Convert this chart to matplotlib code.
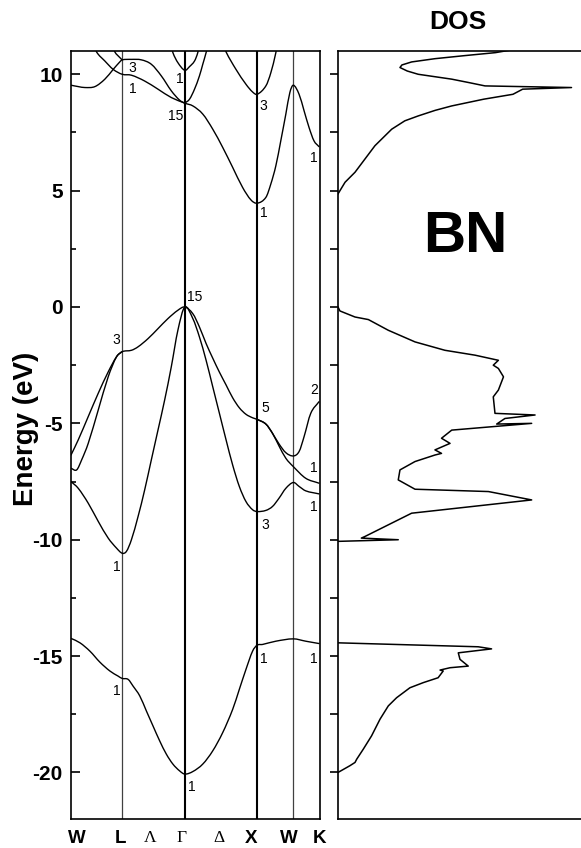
import numpy as np
import matplotlib
matplotlib.use("Agg")
import matplotlib.pyplot as plt
from matplotlib.path import Path
from matplotlib.patches import PathPatch

plt.rcParams['font.family'] = ['Liberation Sans', 'DejaVu Sans']
plt.rcParams['axes.unicode_minus'] = False

# ---------------- data ----------------
# high-symmetry points along the path (units of 2*pi/a)
sym_k = [0.0, 0.707, 1.573, 2.573, 3.073, 3.427]
xtick_labels = ['W', 'L', 'Λ', 'Γ', 'Δ', 'X', 'W', 'K']
xtick_pos = [0.076, 0.685, 1.100, 1.528, 2.040, 2.491, 3.014, 3.441]

# valence bands
v1_k = [0.000, 0.124, 0.262, 0.399, 0.537, 0.651, 0.707, 0.789, 0.858, 0.950, 1.042,
        1.133, 1.225, 1.317, 1.408, 1.500, 1.573, 1.684, 1.821, 1.959, 2.096, 2.234,
        2.326, 2.418, 2.509, 2.573, 2.647, 2.831, 3.073, 3.244, 3.427]
v1_e = [-14.24, -14.43, -14.79, -15.26, -15.64, -15.86, -15.96, -16.00, -16.29, -16.71, -17.36,
        -18.00, -18.64, -19.21, -19.64, -19.93, -20.07, -19.96, -19.64, -19.07, -18.29, -17.29,
        -16.43, -15.57, -14.79, -14.53, -14.50, -14.36, -14.26, -14.36, -14.46]

va_k = [0.000, 0.100, 0.238, 0.376, 0.514, 0.629, 0.707, 0.835, 0.927, 1.064, 1.202, 1.339,
        1.477, 1.573, 1.684, 1.775, 1.867, 1.959, 2.051, 2.143, 2.234, 2.326, 2.418, 2.509,
        2.573, 2.693, 2.785, 2.876, 2.969, 3.073, 3.152, 3.221, 3.313, 3.427]
va_e = [-6.36, -5.71, -4.71, -3.71, -2.79, -2.14, -1.92, -1.86, -1.71, -1.36, -0.93, -0.50,
        -0.14, 0.00, -0.29, -0.86, -1.57, -2.20, -2.80, -3.35, -3.90, -4.33, -4.61, -4.76,
        -4.83, -5.03, -5.43, -5.89, -6.26, -6.40, -6.21, -5.57, -4.57, -4.07]

vb_wl_k = [0.000, 0.078, 0.147, 0.238, 0.376, 0.514, 0.629, 0.707]
vb_wl_e = [-6.93, -7.00, -6.57, -5.86, -4.43, -3.00, -2.14, -1.92]
vb_xk_k = [2.573, 2.693, 2.785, 2.876, 2.969, 3.073, 3.244, 3.427]
vb_xk_e = [-4.83, -5.03, -5.43, -5.98, -6.50, -6.86, -7.36, -7.57]

vc_k = [0.000, 0.100, 0.238, 0.376, 0.514, 0.629, 0.707, 0.766, 0.835, 0.927, 1.018, 1.110,
        1.202, 1.294, 1.386, 1.477, 1.573, 1.684, 1.775, 1.867, 1.959, 2.051, 2.143, 2.234,
        2.326, 2.418, 2.509, 2.573, 2.693, 2.785, 2.876, 2.969, 3.073, 3.152, 3.244, 3.427]
vc_e = [-7.50, -7.79, -8.43, -9.21, -9.93, -10.36, -10.58, -10.50, -10.00, -9.00, -7.86, -6.57,
        -5.29, -4.00, -2.57, -1.00, 0.00, -0.50, -1.29, -2.29, -3.43, -4.57, -5.71, -6.79,
        -7.71, -8.36, -8.71, -8.79, -8.74, -8.57, -8.21, -7.79, -7.54, -7.71, -7.90, -8.03]

# conduction bands
ca_k = [0.000, 0.101, 0.193, 0.330, 0.468, 0.583, 0.674, 0.707, 0.835, 0.972, 1.110, 1.248,
        1.386, 1.500, 1.573, 1.684, 1.821, 1.959, 2.096, 2.234, 2.371, 2.487, 2.573, 2.693,
        2.762, 2.831, 2.899, 2.969, 3.024, 3.073, 3.152, 3.221, 3.290, 3.358, 3.427]
ca_e = [9.53, 9.47, 9.43, 9.47, 9.79, 10.21, 10.53, 10.62, 10.64, 10.62, 10.43, 9.93,
        9.29, 8.89, 8.76, 8.64, 8.29, 7.64, 6.86, 6.00, 5.14, 4.60, 4.46, 4.71,
        5.29, 6.07, 7.14, 8.29, 9.21, 9.53, 9.14, 8.43, 7.71, 7.14, 6.89]

cb1_k = [0.320, 0.353, 0.468, 0.583, 0.707, 0.835, 1.018, 1.202, 1.386, 1.573]
cb1_e = [11.30, 10.96, 10.57, 10.21, 10.00, 9.96, 9.71, 9.36, 9.00, 8.76]
cb2_k = [1.573, 1.638, 1.707, 1.775, 1.821, 1.867, 1.895]
cb2_e = [8.76, 8.93, 9.36, 9.93, 10.43, 10.93, 11.30]

cc_k = [0.575, 0.606, 0.674, 0.707]
cc_e = [11.25, 10.96, 10.72, 10.62]

cd_k = [1.380, 1.408, 1.477, 1.573, 1.638, 1.707, 1.752, 1.775]
cd_e = [11.30, 10.93, 10.50, 10.17, 10.33, 10.57, 10.93, 11.30]

ce_k = [2.110, 2.143, 2.280, 2.418, 2.509, 2.573, 2.693, 2.762, 2.831, 2.850]
ce_e = [11.30, 10.96, 10.21, 9.57, 9.24, 9.14, 9.50, 10.07, 10.93, 11.30]

# irreducible-representation labels: (k, E, text)
irrep_labels = [
    (0.849, 10.29, '3'), (0.849, 9.36, '1'), (1.500, 9.79, '1'), (1.441, 8.21, '15'),
    (2.660, 8.64, '3'), (2.670, 4.03, '1'), (3.358, 6.40, '1'), (1.707, 0.43, '15'),
    (0.629, -1.43, '3'), (2.684, -4.36, '5'), (3.358, -3.57, '2'), (3.358, -6.93, '1'),
    (3.358, -8.60, '1'), (2.684, -9.36, '3'), (0.637, -11.17, '1'), (0.637, -16.50, '1'),
    (2.670, -15.14, '1'), (3.349, -15.14, '1'), (1.675, -20.64, '1'),
]

# density of states (energy, DOS in arbitrary units)
dos_s_e = [-20.00, -19.71, -19.57, -19.43, -19.00, -18.43, -17.71, -17.14, -16.79, -16.36,
           -16.14, -15.93, -15.64, -15.60, -15.50, -15.43, -15.14, -14.86, -14.69, -14.60,
           -14.43]
dos_s = [0.0, 4.9, 7.0, 7.7, 10.4, 13.8, 17.3, 20.7, 24.1, 29.6,
         35.1, 41.2, 43.3, 42.0, 46.1, 53.6, 50.2, 49.5, 63.2, 57.7,
         0.0]

dos_p_e = [-10.07, -10.00, -9.93, -9.86, -8.86, -8.29, -7.93, -7.83, -7.43, -7.00, -6.64,
           -6.36, -6.29, -6.14, -5.86, -5.64, -5.29, -5.00, -5.03, -4.79, -4.64, -4.57,
           -3.86, -3.57, -3.00, -2.64, -2.50, -2.29, -2.07, -1.86, -1.50, -1.00, -0.54,
           -0.43, -0.17, 0.00]
dos_p = [0.0, 24.8, 9.6, 11.1, 30.3, 79.7, 61.9, 31.7, 24.8, 25.5, 31.7,
         39.9, 42.6, 39.9, 46.1, 42.6, 46.8, 79.7, 65.3, 68.7, 81.1, 64.6,
         63.9, 66.0, 68.1, 66.0, 63.9, 66.0, 56.4, 44.0, 31.7, 20.7, 12.5,
         7.0, 0.8, 0.0]

dos_c_e = [4.86, 5.36, 5.79, 6.36, 6.93, 7.64, 8.00, 8.21, 8.45, 8.64, 8.93, 9.14, 9.36,
           9.43, 9.50, 9.64, 9.79, 10.00, 10.14, 10.29, 10.40, 10.53, 10.67, 10.80, 10.93,
           11.20]
dos_c = [0.0, 2.9, 7.0, 11.1, 15.2, 22.1, 27.5, 33.0, 40.0, 46.8, 60.0, 72.0, 76.0,
         96.1, 60.5, 54.0, 46.8, 33.0, 28.5, 25.5, 26.3, 30.3, 39.9, 52.0, 64.8,
         80.0]


# ---------------- helpers ----------------
def smooth_path(k, e):
    k = np.asarray(k, float)
    e = np.asarray(e, float)
    n = len(k)
    m = np.empty(n)
    m[1:-1] = (e[2:] - e[:-2]) / (k[2:] - k[:-2])
    m[0] = (e[1] - e[0]) / (k[1] - k[0])
    m[-1] = (e[-1] - e[-2]) / (k[-1] - k[-2])
    verts = [(k[0], e[0])]
    codes = [Path.MOVETO]
    for i in range(n - 1):
        h = k[i + 1] - k[i]
        verts += [(k[i] + h / 3, e[i] + m[i] * h / 3),
                  (k[i + 1] - h / 3, e[i + 1] - m[i + 1] * h / 3),
                  (k[i + 1], e[i + 1])]
        codes += [Path.CURVE4] * 3
    return Path(verts, codes)


# ---------------- figure ----------------
fig = plt.figure(figsize=(5.81, 8.48), dpi=100)
ax1 = fig.add_axes([71 / 581, 1 - 819 / 848, 249 / 581, 768 / 848])
ax2 = fig.add_axes([338 / 581, 1 - 819 / 848, 243 / 581, 768 / 848])

for kk, lw, col in zip(sym_k[1:5], [0.9, 1.5, 1.5, 0.9], ['#404040', 'k', 'k', '#404040']):
    ax1.axvline(kk, color=col, lw=lw, zorder=1)

bands = [(v1_k, v1_e), (va_k, va_e), (vb_wl_k, vb_wl_e), (vb_xk_k, vb_xk_e), (vc_k, vc_e),
         (ca_k, ca_e), (cb1_k, cb1_e), (cb2_k, cb2_e), (cc_k, cc_e), (cd_k, cd_e), (ce_k, ce_e)]
for bk, be in bands:
    ax1.add_patch(PathPatch(smooth_path(bk, be), fill=False, lw=1.0, edgecolor='k',
                            zorder=2, capstyle='round', joinstyle='round'))

for kk, ee, tt in irrep_labels:
    ax1.text(kk, ee, tt, fontsize=10, ha='center', va='center', zorder=3)

ax1.set_xlim(0, sym_k[-1])
ax1.set_ylim(-22, 11)
ax1.set_yticks([-20, -15, -10, -5, 0, 5, 10])
ax1.set_yticks(np.arange(-17.5, 10, 5), minor=True)
ax1.tick_params(axis='y', which='major', direction='in', length=6.5, width=1.2,
                labelsize=15, pad=6)
ax1.tick_params(axis='y', which='minor', direction='in', length=3.6, width=1.2)
for lab in ax1.get_yticklabels():
    lab.set_fontweight('bold')
ax1.set_xticks(xtick_pos)
ax1.set_xticklabels(xtick_labels)
ax1.tick_params(axis='x', length=0, pad=8, labelsize=13.5)
for lab in ax1.get_xticklabels():
    if lab.get_text() in ('Λ', 'Γ', 'Δ'):
        lab.set_fontfamily(['Liberation Serif', 'DejaVu Serif'])
        lab.set_fontweight('normal')
        lab.set_fontsize(12.5)
    else:
        lab.set_fontweight('bold')
for sp in ax1.spines.values():
    sp.set_linewidth(1.2)
ax1.set_ylabel('Energy (eV)', fontsize=20, fontweight='bold')
ax1.yaxis.set_label_coords(-0.128, 0.508)

# DOS panel
ax2.plot(dos_s, dos_s_e, color='k', lw=1.1)
ax2.plot(dos_p, dos_p_e, color='k', lw=1.1)
ax2.plot(dos_c, dos_c_e, color='k', lw=1.1)
ax2.set_xlim(0, 100)
ax2.set_ylim(-22, 11)
ax2.set_xticks([])
ax2.set_yticks(np.arange(-20, 10.1, 2.5))
ax2.tick_params(axis='y', direction='out', length=6, width=1.2, labelleft=False)
ax2.spines['right'].set_visible(False)
for sp in ('left', 'top', 'bottom'):
    ax2.spines[sp].set_linewidth(1.2)
ax2.text(0.523, 0.758, 'BN', transform=ax2.transAxes, fontsize=42, fontweight='bold',
         ha='center', va='center')

fig.text(458 / 581, 1 - 22 / 848, 'DOS', fontsize=19, fontweight='bold',
         ha='center', va='center')

fig.savefig('out.png', dpi=100)
